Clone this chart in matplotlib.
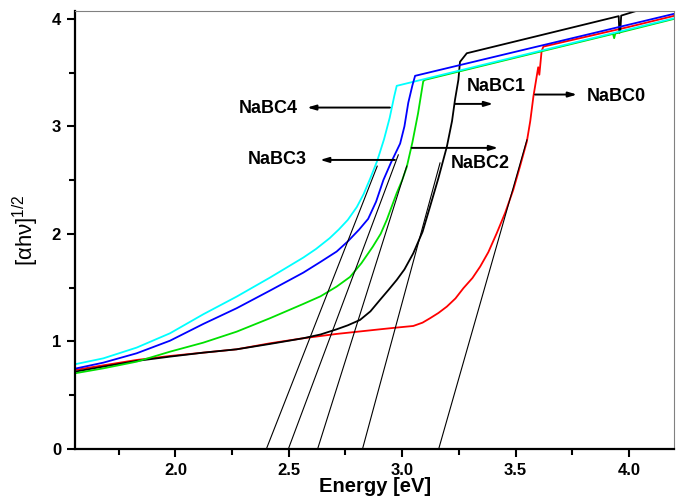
import numpy as np
import matplotlib
matplotlib.use("Agg")
import matplotlib.pyplot as plt
from matplotlib.ticker import MultipleLocator, FormatStrFormatter

plt.rcParams['font.family'] = ['Liberation Sans', 'DejaVu Sans']
plt.rcParams['mathtext.fontset'] = 'custom'
plt.rcParams['mathtext.rm'] = 'Liberation Sans'
plt.rcParams['mathtext.it'] = 'Liberation Sans:italic'

# ---- data ----
e_c4 = [1.557, 1.682, 1.829, 1.976, 2.123, 2.270, 2.417, 2.564, 2.62, 2.68, 2.72, 2.76, 2.80, 2.83, 2.86, 2.89, 2.92, 2.945, 2.965, 2.976, 3.5, 4.0, 4.2]
y_c4 = [0.788, 0.843, 0.943, 1.076, 1.253, 1.417, 1.594, 1.780, 1.86, 1.96, 2.04, 2.13, 2.25, 2.37, 2.52, 2.68, 2.88, 3.08, 3.28, 3.377, 3.646, 3.903, 4.006]

e_c3 = [1.557, 1.682, 1.829, 1.976, 2.123, 2.270, 2.417, 2.564, 2.64, 2.711, 2.76, 2.81, 2.85, 2.885, 2.917, 2.95, 2.991, 3.01, 3.027, 3.045, 3.057, 3.5, 4.0, 4.2]
y_c3 = [0.747, 0.803, 0.890, 1.007, 1.163, 1.309, 1.473, 1.640, 1.74, 1.836, 1.93, 2.04, 2.14, 2.30, 2.50, 2.66, 2.84, 3.00, 3.22, 3.38, 3.47, 3.694, 3.946, 4.047]

e_c2 = [1.557, 1.682, 1.829, 1.976, 2.123, 2.270, 2.417, 2.564, 2.64, 2.711, 2.77, 2.82, 2.87, 2.905, 2.932, 2.976, 3.0, 3.02, 3.045, 3.07, 3.093, 3.101, 3.5, 3.93, 3.935, 3.94, 4.2]
y_c2 = [0.704, 0.750, 0.812, 0.905, 0.989, 1.091, 1.216, 1.349, 1.42, 1.510, 1.60, 1.727, 1.88, 2.00, 2.13, 2.38, 2.50, 2.62, 2.85, 3.12, 3.42, 3.433, 3.639, 3.860, 3.820, 3.863, 4.000]

e_c1 = [1.557, 1.682, 1.829, 1.976, 2.123, 2.270, 2.417, 2.564, 2.64, 2.711, 2.76, 2.814, 2.86, 2.902, 2.94, 2.976, 3.01, 3.049, 3.09, 3.123, 3.16, 3.197, 3.22, 3.233, 3.248, 3.255, 3.285, 3.6, 3.955, 3.958, 3.962, 3.966, 4.035, 4.2]
y_c1 = [0.719, 0.766, 0.819, 0.859, 0.896, 0.927, 0.977, 1.030, 1.065, 1.113, 1.15, 1.20, 1.28, 1.386, 1.48, 1.572, 1.67, 1.82, 2.02, 2.254, 2.52, 2.81, 3.05, 3.247, 3.433, 3.600, 3.680, 3.842, 4.025, 3.870, 3.880, 4.030, 4.075, 4.160]

e_c0 = [1.557, 1.682, 1.829, 1.976, 2.123, 2.270, 2.417, 2.564, 2.711, 2.902, 2.98, 3.049, 3.09, 3.123, 3.16, 3.197, 3.235, 3.270, 3.31, 3.344, 3.38, 3.417, 3.455, 3.490, 3.52, 3.550, 3.565, 3.579, 3.600, 3.605, 3.615, 3.623, 4.0, 4.2]
y_c0 = [0.735, 0.778, 0.828, 0.865, 0.896, 0.927, 0.983, 1.030, 1.070, 1.113, 1.13, 1.144, 1.175, 1.216, 1.265, 1.324, 1.40, 1.495, 1.59, 1.696, 1.83, 2.006, 2.20, 2.410, 2.63, 2.860, 3.05, 3.280, 3.550, 3.480, 3.700, 3.742, 3.925, 4.028]

# tangent (extrapolation) lines: x-intercept -> upper end point
tan_x0 = [2.401, 2.498, 2.627, 2.825, 3.161]
tan_x1 = [2.890, 2.983, 3.020, 3.167, 3.550]
tan_y1 = [2.630, 2.735, 2.630, 2.660, 2.874]

labels = ['NaBC4', 'NaBC3', 'NaBC2', 'NaBC1', 'NaBC0']
label_xy = [(2.411, 3.163), (2.448, 2.688), (3.346, 2.651), (3.416, 3.367), (3.946, 3.274)]
arrow_from = [(2.946, 3.175), (2.968, 2.688), (3.042, 2.800), (3.233, 3.209), (3.586, 3.296)]
arrow_to = [(2.581, 3.175), (2.638, 2.688), (3.423, 2.800), (3.401, 3.209), (3.771, 3.296)]

fig = plt.figure(figsize=(6.88, 4.99), dpi=100)
ax = fig.add_axes([0.109, 0.1002, 0.871, 0.878])

lw = 1.3
ax.plot(e_c0, y_c0, color='#ff0000', lw=lw)
ax.plot(e_c1, y_c1, color='#000000', lw=lw)
ax.plot(e_c2, y_c2, color='#00e000', lw=lw)
ax.plot(e_c4, y_c4, color='#00ffff', lw=lw)
ax.plot(e_c3, y_c3, color='#0000ff', lw=lw)

for x0, x1, y1 in zip(tan_x0, tan_x1, tan_y1):
    ax.plot([x0, x1], [0, y1], color='black', lw=0.8)

for lab, xy, a0, a1 in zip(labels, label_xy, arrow_from, arrow_to):
    ax.text(xy[0], xy[1], lab, ha='center', va='center', fontsize=13, fontweight='bold')
    ax.annotate('', xy=a1, xytext=a0,
                arrowprops=dict(arrowstyle='-|>,head_length=0.5,head_width=0.15', color='black', lw=1.4,
                                shrinkA=0, shrinkB=0))

ax.set_xlim(1.557, 4.2)
ax.set_ylim(0, 4.074)
ax.xaxis.set_major_locator(MultipleLocator(0.5))
ax.xaxis.set_minor_locator(MultipleLocator(0.25))
ax.yaxis.set_major_locator(MultipleLocator(1))
ax.yaxis.set_minor_locator(MultipleLocator(0.5))
ax.xaxis.set_major_formatter(FormatStrFormatter('%.1f'))
ax.yaxis.set_major_formatter(FormatStrFormatter('%d'))

ax.tick_params(which='both', direction='out', width=1.5, top=False, right=False)
ax.tick_params(which='major', length=6, labelsize=12, pad=4)
ax.tick_params(which='minor', length=4)
for t in ax.get_xticklabels() + ax.get_yticklabels():
    t.set_fontweight('bold')

for s in ['left', 'bottom']:
    ax.spines[s].set_linewidth(1.6)
    ax.spines[s].set_color('black')
for s in ['top', 'right']:
    ax.spines[s].set_linewidth(0.8)
    ax.spines[s].set_color('#808080')

ax.set_xlabel('Energy [eV]', fontsize=14.5, fontweight='bold', labelpad=-1)
ax.set_ylabel(r'[αhν]$^{1/2}$', fontsize=16, labelpad=8)

fig.savefig('out.png', dpi=100)
